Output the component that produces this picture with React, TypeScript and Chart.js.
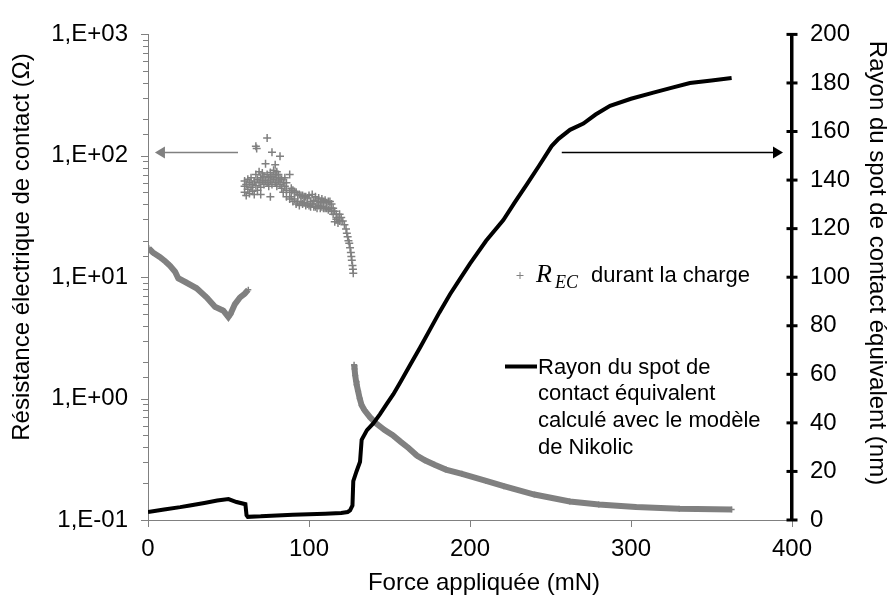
import React, { useEffect, useRef } from "react";
import { Chart, registerables } from "chart.js";

Chart.register(...registerables);

// ---------- data ----------
// Contact radius (nm) vs applied force (mN) — right axis
const radiusForce = [0, 10, 20, 26, 35, 43, 50, 55, 60.5, 61.2, 62, 70, 80, 90, 100, 110, 120, 124, 125.5, 127, 127.5, 129.5, 131.7, 132.7, 136, 139.9, 144, 148.3, 152.4, 157, 162.7, 169, 175.2, 181, 187.6, 194, 200, 210, 220.7, 228, 235.2, 243, 250.7, 255, 262.1, 270.4, 278, 287, 300, 313.9, 325, 336.6, 350, 362.5];
const radiusNm = [3.3, 4.3, 5.3, 6.0, 7.0, 8.0, 8.6, 7.4, 6.5, 2.0, 1.3, 1.5, 1.9, 2.2, 2.4, 2.6, 2.9, 3.3, 4.0, 6, 16, 20, 24, 33, 37, 39.8, 43.5, 47.8, 51.8, 57, 63.7, 71, 78.5, 85.5, 93, 99.5, 105.6, 115, 123.5, 131, 138.1, 146, 154, 157, 160.7, 163.3, 167, 170.6, 173.5, 176, 178, 180, 181, 182];

// R_EC during loading (Ohm) — left log axis, first dense part
const recForce1 = [0.5, 3, 7.5, 11, 13.7, 16.8, 18.8, 24, 30.2, 36.5, 41.6, 46.8, 49.9, 51.3, 54, 57.1, 60, 62.3];
const recOhm1 = [17.3, 16.0, 14.6, 13.4, 12.4, 11.1, 9.8, 9.0, 8.1, 6.8, 5.7, 5.3, 4.7, 5.0, 6.0, 6.8, 7.3, 7.9];

// R_EC scattered cloud
const recForce2 = [60, 60, 60, 61, 61, 62, 62, 63, 63, 64, 64, 65, 65, 66, 66, 67, 67, 67, 67.5, 68, 68, 69, 69, 70, 70, 70, 71, 71, 72, 72, 73, 73, 74, 74, 74, 75, 75, 76, 76, 76, 77, 77, 77, 78, 78, 79, 79, 79, 80, 80, 80, 81, 81, 82, 82, 82, 83, 83, 84, 84, 85, 85, 86, 86, 86, 88, 88, 88, 89, 89, 90, 90, 91, 91, 92, 92, 93, 93, 94, 94, 95, 95, 96, 96, 97, 97, 98, 98, 99, 99, 100, 100, 101, 101, 102, 102, 103, 103, 104, 104, 105, 105, 106, 106, 107, 107, 108, 108, 109, 109, 110, 110, 111, 111, 112, 112, 113, 113, 114, 114, 115, 115, 116, 116, 117, 117, 118, 118, 119, 119, 120, 121, 122, 123, 123.5, 124, 124.5, 125, 125.5, 126, 126.3, 126.6, 127, 127.3, 127.5];
const recOhm2 = [50, 56, 62, 47, 58, 53, 64, 49, 60, 55, 66, 51, 58, 62, 48, 57, 70, 120, 115, 52, 64, 60, 74, 55, 66, 48, 62, 72, 58, 68, 86, 63, 140, 60, 70, 66, 56, 46, 73, 62, 107, 68, 58, 64, 76, 84.5, 60, 70, 66, 56, 74, 62, 70, 99, 58, 66, 64, 54, 60, 50, 56, 66, 52, 60, 46, 70, 50, 44, 54, 46, 52, 42, 50, 44, 50, 40, 48, 42, 48, 39, 47, 42, 47, 40, 46, 41, 46, 39, 45, 40, 47, 39, 42, 38, 48, 40, 43, 38, 46, 38, 42, 37, 45, 39, 41, 37, 44, 38, 42, 37, 43, 37, 41, 37, 42, 36, 42, 37, 40, 35, 37, 33, 35, 28.6, 33, 30, 31, 28, 29, 33, 31, 29, 27, 25, 23, 21.5, 20, 19, 17.5, 16, 14.8, 13.8, 12.5, 11.6, 10.8];

// R_EC after the drop — dense part
const recForce3 = [128, 128.3, 128.7, 129.2, 129.6, 130.5, 131.5, 132.7, 134.5, 138, 142, 147, 152, 157, 162, 167, 172, 178, 185, 195, 210, 221, 240, 262, 280, 303, 330, 362.5];
const recOhm3 = [1.9, 1.75, 1.55, 1.4, 1.3, 1.15, 1.0, 0.88, 0.8, 0.7, 0.62, 0.55, 0.5, 0.44, 0.39, 0.34, 0.31, 0.285, 0.26, 0.24, 0.21, 0.19, 0.162, 0.142, 0.134, 0.128, 0.124, 0.122];

const xTicksStep = 100;
const y2TicksStep = 20;
const legendRec = ["R", "EC", "durant la charge"];
const legendRadius = ["Rayon du spot de", "contact équivalent", "calculé avec le modèle", "de Nikolic"];
const xTitle = "Force appliquée (mN)";
const yTitle = "Résistance électrique de contact (Ω)";
const y2Title = "Rayon du spot de contact équivalent (nm)";

// arrows (in data space): [x from, x to, value]
const leftArrow = [55.9, 4.3, 107];
const rightArrow = [257, 394.4, 151.7];

const GRAY = "#808080";
const FONT = "'Liberation Sans', Arial, sans-serif";

const pts = (xs: number[], ys: number[]) => xs.map((x, i) => ({ x, y: ys[i] }));
const isPow10 = (v: number) => {
  const l = Math.log10(v);
  return Math.abs(l - Math.round(l)) < 1e-6;
};

const decor = {
  id: "decor",
  afterDraw(chart: any) {
    const { ctx, chartArea: ca, scales } = chart;
    const sx = scales.x, sy = scales.y, sy2 = scales.y2;
    ctx.save();
    // left log ticks
    ctx.strokeStyle = GRAY;
    ctx.lineWidth = 1;
    sy.ticks.forEach((t: any) => {
      const py = Math.round(sy.getPixelForValue(t.value)) + 0.5;
      const len = isPow10(t.value) ? 7 : 5;
      ctx.beginPath();
      ctx.moveTo(ca.left - len, py);
      ctx.lineTo(ca.left, py);
      ctx.stroke();
    });
    // x ticks
    sx.ticks.forEach((t: any) => {
      const px = Math.round(sx.getPixelForValue(t.value)) + 0.5;
      ctx.beginPath();
      ctx.moveTo(px, ca.bottom);
      ctx.lineTo(px, ca.bottom + 7);
      ctx.stroke();
    });
    // right axis ticks (crossing)
    ctx.strokeStyle = "#000";
    ctx.lineWidth = 3;
    sy2.ticks.forEach((t: any) => {
      const py = sy2.getPixelForValue(t.value);
      ctx.beginPath();
      ctx.moveTo(ca.right - 5.5, py);
      ctx.lineTo(ca.right + 5.5, py);
      ctx.stroke();
    });

    // arrows
    const arrow = (x1: number, x2: number, y: number, color: string) => {
      ctx.strokeStyle = color;
      ctx.fillStyle = color;
      ctx.lineWidth = 1.3;
      const dir = Math.sign(x2 - x1);
      ctx.beginPath();
      ctx.moveTo(x1, y);
      ctx.lineTo(x2 - dir * 9, y);
      ctx.stroke();
      ctx.beginPath();
      ctx.moveTo(x2, y);
      ctx.lineTo(x2 - dir * 10, y - 6);
      ctx.lineTo(x2 - dir * 10, y + 6);
      ctx.closePath();
      ctx.fill();
    };
    const la = Math.round(sy.getPixelForValue(leftArrow[2])) + 0.5;
    arrow(sx.getPixelForValue(leftArrow[0]), sx.getPixelForValue(leftArrow[1]), la, GRAY);
    const ra = Math.round(sy2.getPixelForValue(rightArrow[2])) + 0.5;
    arrow(sx.getPixelForValue(rightArrow[0]), sx.getPixelForValue(rightArrow[1]), ra, "#000");

    // legend
    ctx.strokeStyle = GRAY;
    ctx.lineWidth = 1;
    ctx.beginPath();
    ctx.moveTo(516.5, 275.5);
    ctx.lineTo(523.5, 275.5);
    ctx.moveTo(520, 272);
    ctx.lineTo(520, 279);
    ctx.stroke();
    ctx.fillStyle = "#000";
    ctx.textAlign = "left";
    ctx.textBaseline = "alphabetic";
    ctx.font = "italic 26px 'Liberation Serif', 'Times New Roman', serif";
    ctx.fillText(legendRec[0], 536, 282);
    ctx.font = "italic 18px 'Liberation Serif', 'Times New Roman', serif";
    ctx.fillText(legendRec[1], 555, 288);
    ctx.font = `22px ${FONT}`;
    ctx.fillText(legendRec[2], 591, 282);

    ctx.strokeStyle = "#000";
    ctx.lineWidth = 4;
    ctx.beginPath();
    ctx.moveTo(505, 366.5);
    ctx.lineTo(537, 366.5);
    ctx.stroke();
    legendRadius.forEach((s, i) => ctx.fillText(s, 538, 373.5 + i * 26.7));

    // axis titles
    ctx.font = `24px ${FONT}`;
    ctx.textAlign = "center";
    ctx.textBaseline = "middle";
    ctx.fillText(xTitle, 484, 583);
    ctx.save();
    ctx.translate(22, 247);
    ctx.rotate(-Math.PI / 2);
    ctx.fillText(yTitle, 0, 0);
    ctx.restore();
    ctx.save();
    ctx.translate(877, 263);
    ctx.rotate(Math.PI / 2);
    ctx.fillText(y2Title, 0, 0);
    ctx.restore();
    ctx.restore();
  },
};

export default function App() {
  const ref = useRef<HTMLCanvasElement>(null);
  useEffect(() => {
    if (!ref.current) return;
    const tickFont = { family: FONT, size: 24 };
    const chart = new Chart(ref.current, {
      type: "scatter",
      data: {
        datasets: [
          {
            label: "Rayon",
            data: pts(radiusForce, radiusNm),
            yAxisID: "y2",
            showLine: true,
            borderColor: "#000",
            borderWidth: 4,
            pointRadius: 0,
            tension: 0,
          },
          {
            label: "R1",
            data: pts(recForce1, recOhm1),
            yAxisID: "y",
            showLine: true,
            borderColor: GRAY,
            borderWidth: 6,
            pointStyle: "cross",
            pointRadius: 3,
            pointBorderWidth: 1.5,
            pointBorderColor: GRAY,
          },
          {
            label: "R2",
            data: pts(recForce2, recOhm2),
            yAxisID: "y",
            showLine: false,
            pointStyle: "cross",
            pointRadius: 4,
            pointBorderWidth: 1.5,
            pointBorderColor: GRAY,
            borderColor: GRAY,
          },
          {
            label: "R3",
            data: pts(recForce3, recOhm3),
            yAxisID: "y",
            showLine: true,
            borderColor: GRAY,
            borderWidth: 6,
            pointStyle: "cross",
            pointRadius: 3,
            pointBorderWidth: 1.5,
            pointBorderColor: GRAY,
          },
        ],
      },
      options: {
        responsive: false,
        animation: false,
        layout: { padding: { top: 18, left: 0, right: 0, bottom: 0 } },
        plugins: { legend: { display: false }, tooltip: { enabled: false } },
        scales: {
          x: {
            type: "linear",
            position: "bottom",
            min: 0,
            max: 400,
            ticks: { stepSize: xTicksStep, font: tickFont, color: "#000", padding: 15 },
            grid: { display: false, drawTicks: false },
            border: { display: true, color: GRAY, width: 1 },
            afterFit: (s: any) => { s.height = 82; },
          },
          y: {
            type: "logarithmic",
            position: "left",
            min: 0.1,
            max: 1000,
            ticks: {
              autoSkip: false,
              font: tickFont,
              color: "#000",
              padding: 20,
              callback: (v: any) => {
                const n = Number(v);
                if (!isPow10(n)) return "";
                const e = Math.round(Math.log10(n));
                return `1,E${e < 0 ? "-" : "+"}${String(Math.abs(e)).padStart(2, "0")}`;
              },
            },
            grid: { display: false, drawTicks: false },
            border: { display: true, color: GRAY, width: 1 },
            afterFit: (s: any) => { s.width = 148; },
          },
          y2: {
            type: "linear",
            position: "right",
            min: 0,
            max: 200,
            ticks: { stepSize: y2TicksStep, font: tickFont, color: "#000", padding: 18 },
            grid: { display: false, drawTicks: false },
            border: { display: true, color: "#000", width: 3.5 },
            afterFit: (s: any) => { s.width = 102; },
          },
        },
      },
      plugins: [decor],
    });
    return () => chart.destroy();
  }, []);
  return (
    <div style={{ position: "absolute", left: 0, top: 0, width: 894, height: 602, background: "#fff" }}>
      <canvas ref={ref} width={894} height={602} style={{ display: "block" }} />
    </div>
  );
}
